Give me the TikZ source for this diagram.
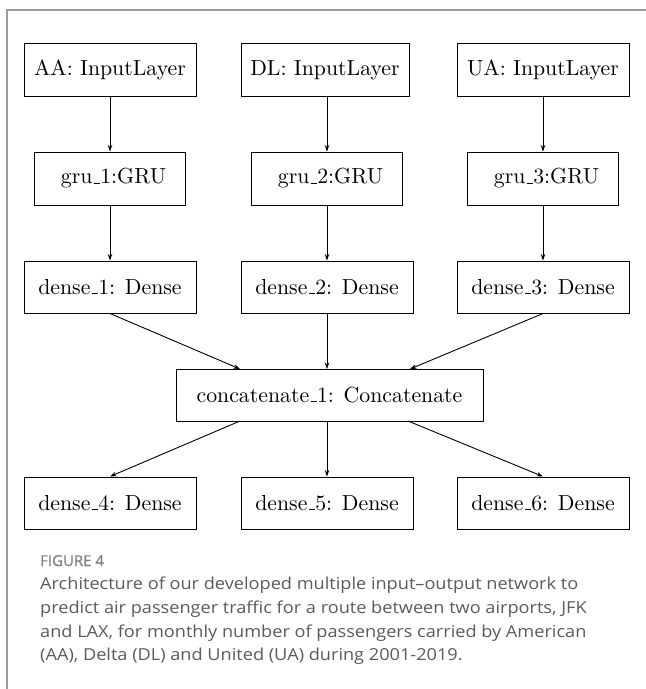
\documentclass[tikz,border=0pt]{standalone}
\usepackage{fontspec}
\newfontfamily\capfont{Open Sans}
\newfontfamily\figfont{Open Sans}[FakeBold=0.7]
\newfontfamily\lmten{lmroman10-regular.otf}
\usetikzlibrary{arrows.meta}
\definecolor{framegray}{HTML}{9A9A9A}
\definecolor{captext}{HTML}{5A5A5A}
\definecolor{figlabel}{HTML}{7E7E7E}
\newcommand\usc{\leavevmode\kern.06em\vbox{\hrule width.3em height 1pt}}
\newlength\capw
\newcommand\capline{Architecture of our developed multiple input–output network to}
\AtBeginDocument{\settowidth\capw{\capfont\fontsize{16.5}{24}\selectfont\capline}}
\begin{document}
\begin{tikzpicture}[x=1pt,y=-1pt,
  layer/.style={draw, line width=1pt, minimum width=172pt, minimum height=53pt,
    inner sep=0pt, font=\lmten\fontsize{21.8}{26}\selectfont},
  conn/.style={-{Stealth[length=6.5pt,width=4.5pt]}, line width=0.9pt},
  captxt/.style={anchor=base west, inner sep=0pt, text=captext,
    font=\capfont\fontsize{16.5}{24}\selectfont},
  framel/.style={draw=framegray, line width=1.2pt}
]
\pgfmathsetmacro\capx{538/(\capw)}
\useasboundingbox (0,0) rectangle (646,689);
% frame
\coordinate (ftl) at (7,10);
\coordinate (ftr) at (646,10);
\coordinate (fbl) at (7,689);
\draw[framel] (fbl) -- (ftl) -- (ftr);

% row 1
\node[layer] (aa) at (110,70) {AA: InputLayer};
\node[layer, minimum width=168pt] (dl) at (325,70) {DL: InputLayer};
\node[layer] (ua) at (543,70) {UA: InputLayer};
% row 2
\node[layer, minimum width=151pt] (g1) at (110,178.5) {\hspace*{7pt}gru\usc1:GRU};
\node[layer, minimum width=151pt] (g2) at (327,178.5) {\hspace*{7pt}gru\usc2:GRU};
\node[layer, minimum width=151pt] (g3) at (543,178.5) {\hspace*{7pt}gru\usc3:GRU};
% row 3
\node[layer, minimum height=52pt] (d1) at (110,287) {dense\usc1: Dense};
\node[layer, minimum height=52pt] (d2) at (327,287) {dense\usc2: Dense};
\node[layer, minimum height=52pt] (d3) at (543,287) {dense\usc3: Dense};
% concat
\node[layer, minimum width=307pt, minimum height=52pt] (cat) at (329.5,395) {concatenate\usc1: Concatenate};
% row 5
\node[layer, minimum height=52pt] (d4) at (110,503) {dense\usc4: Dense};
\node[layer, minimum height=52pt] (d5) at (327,503) {dense\usc5: Dense};
\node[layer, minimum height=52pt] (d6) at (543,503) {dense\usc6: Dense};

% connection points on concat
\coordinate (catinl) at (240,369);
\coordinate (catinm) at (327,369);
\coordinate (catinr) at (410,369);
\coordinate (catoutl) at (240,421);
\coordinate (catoutm) at (327,421);
\coordinate (catoutr) at (408,421);

\draw[conn] (aa) -- (g1);
\draw[conn] (dl.south -| g2) -- (g2);
\draw[conn] (ua) -- (g3);
\draw[conn] (g1) -- (d1);
\draw[conn] (g2) -- (d2);
\draw[conn] (g3) -- (d3);
\draw[conn] (d1.south) -- (catinl);
\draw[conn] (d2.south) -- (catinm);
\draw[conn] (d3.south) -- (catinr);
\draw[conn] (catoutl) -- (d4.north);
\draw[conn] (catoutm) -- (d5.north);
\draw[conn] (catoutr) -- (d6.north);

% caption
\node[captxt, text=figlabel, font=\figfont\fontsize{15}{18}\selectfont] (figl) at (40,566) {FIGURE 4};
\node[captxt] (c1) at (40,589) {\scalebox{\capx}[1]{\capline}};
\node[captxt] (c2) at (40,613) {\scalebox{\capx}[1]{predict air passenger traffic for a route between two airports, JFK}};
\node[captxt] (c3) at (40,637) {\scalebox{\capx}[1]{and LAX, for monthly number of passengers carried by American}};
\node[captxt] (c4) at (40,660) {\scalebox{\capx}[1]{(AA), Delta (DL) and United (UA) during 2001-2019.}};
\end{tikzpicture}
\end{document}
